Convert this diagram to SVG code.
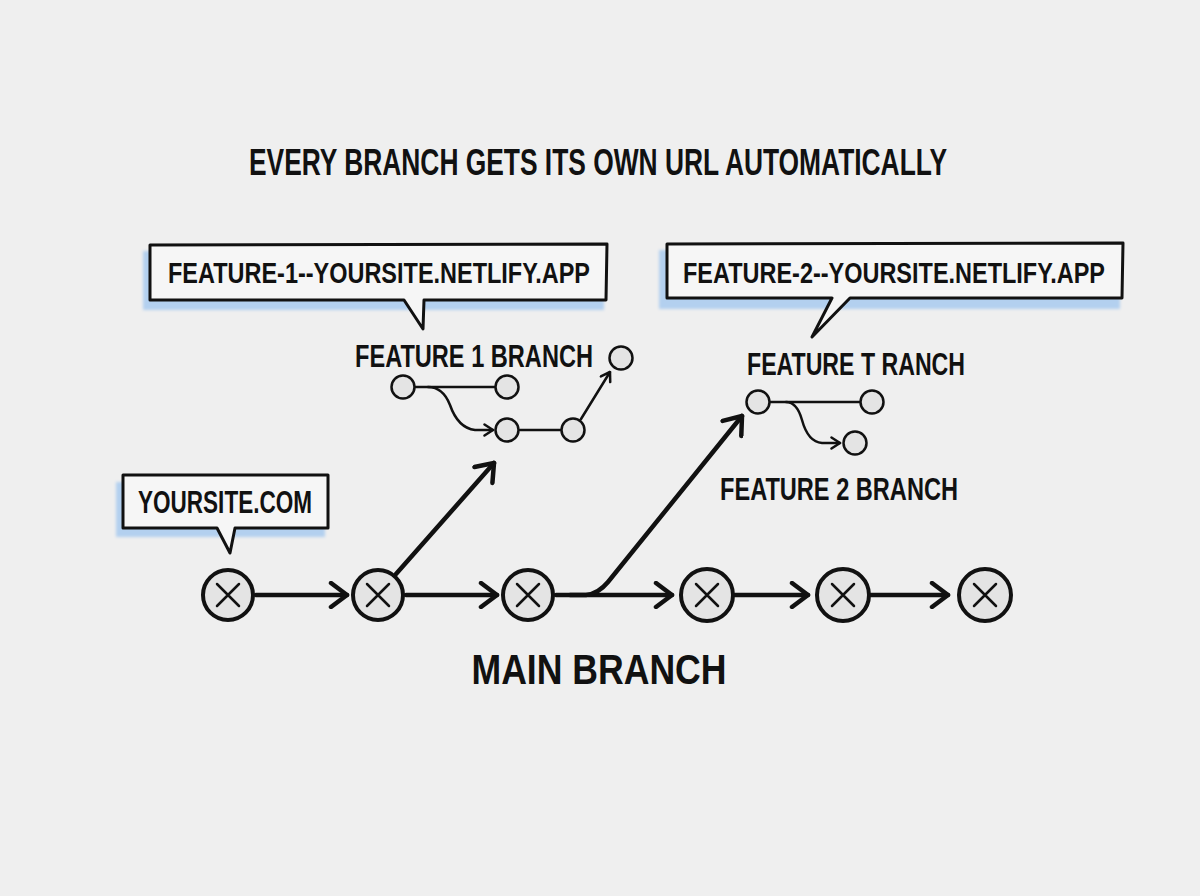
<svg xmlns="http://www.w3.org/2000/svg" width="1200" height="896" viewBox="0 0 1200 896">
<defs>
<style>
.t{font-family:"Liberation Sans","Arial",sans-serif;font-weight:bold;fill:#111;}
.node{fill:#e4e4e4;stroke:#111;stroke-width:4;}
.x{stroke:#111;stroke-width:2.5;stroke-linecap:round;}
.sn{fill:#e4e4e4;stroke:#111;stroke-width:2.5;}
.box{fill:#f6f6f6;stroke:#111;stroke-width:3;stroke-linejoin:round;}
.shadow{fill:#b3d0ef;}
.main{fill:none;stroke:#111;stroke-width:4.5;stroke-linecap:round;stroke-linejoin:round;}
.thin{fill:none;stroke:#111;stroke-width:2.5;stroke-linecap:round;stroke-linejoin:round;}
</style>
<marker id="ah" viewBox="0 0 22 28" refX="19" refY="14" markerWidth="22" markerHeight="28" markerUnits="userSpaceOnUse" orient="auto">
<path d="M3,2 L19,14 L3,26" fill="none" stroke="#111" stroke-width="4.5" stroke-linecap="round" stroke-linejoin="round"/>
</marker>
<marker id="sah" viewBox="0 0 12 14" refX="10.5" refY="7" markerWidth="12" markerHeight="14" markerUnits="userSpaceOnUse" orient="auto">
<path d="M2,1.5 L10.5,7 L2,12.5" fill="none" stroke="#111" stroke-width="2.5" stroke-linecap="round" stroke-linejoin="round"/>
</marker>
<filter id="blur" x="-10%" y="-30%" width="120%" height="160%"><feGaussianBlur stdDeviation="1.5"/></filter>
</defs>
<rect width="1200" height="896" fill="#efefef"/>

<g id="title"><text class="t" x="598" y="175" font-size="36" text-anchor="middle" textLength="698" lengthAdjust="spacingAndGlyphs">EVERY BRANCH GETS ITS OWN URL AUTOMATICALLY</text></g>

<g id="connectors">
<path class="main" d="M256,595 L347,595" marker-end="url(#ah)"/>
<path class="main" d="M406,595 L497,595" marker-end="url(#ah)"/>
<path class="main" d="M556,595 L672,595" marker-end="url(#ah)"/>
<path class="main" d="M735,595 L808,595" marker-end="url(#ah)"/>
<path class="main" d="M871,595 L948,595" marker-end="url(#ah)"/>
<path class="main" d="M396,574 L494,463" marker-end="url(#ah)"/>
<path class="main" d="M570,595 L586,595 Q598,594 608,582 L742,416" marker-end="url(#ah)"/>
<path class="thin" d="M415,387 L495,387"/>
<path class="thin" d="M428,387 Q443,387 450,405 Q458,428 475,430 L493,430" marker-end="url(#sah)"/>
<path class="thin" d="M520,430 L561,430"/>
<path class="thin" d="M581,419 L610,372" marker-end="url(#sah)"/>
<path class="thin" d="M770,402 L860,402"/>
<path class="thin" d="M786,402 Q797,402 802,420 Q808,442 822,443 L840,443" marker-end="url(#sah)"/>
</g>

<g id="callout-feature-1">
<rect class="shadow" x="143" y="251" width="461" height="59" filter="url(#blur)"/>
<path class="box" d="M150,245 L607,244 L606,300 L424,300 L423,329 L404,300 L150,300 Z"/>
<text class="t" transform="translate(168,283) scale(0.81,1)" x="0" y="0" font-size="29" textLength="521" lengthAdjust="spacingAndGlyphs">FEATURE-1--YOURSITE.NETLIFY.APP</text>
</g>

<g id="callout-feature-2">
<rect class="shadow" x="659" y="250" width="461" height="59" filter="url(#blur)"/>
<path class="box" d="M667,244 L1123,243 L1122,298 L850,298 L812,337 L832,298 L667,298 Z"/>
<text class="t" transform="translate(683,283) scale(0.81,1)" x="0" y="0" font-size="29" textLength="521" lengthAdjust="spacingAndGlyphs">FEATURE-2--YOURSITE.NETLIFY.APP</text>
</g>

<g id="callout-yoursite">
<rect class="shadow" x="116" y="482" width="209" height="55" filter="url(#blur)"/>
<path class="box" d="M123,475 L328,475 L328,528 L235,528 L230,553 L217,528 L123,528 Z"/>
<text class="t" x="138" y="513" font-size="31" textLength="174" lengthAdjust="spacingAndGlyphs">YOURSITE.COM</text>
</g>

<g id="feature-1-branch">
<text class="t" x="355" y="367" font-size="31" textLength="238" lengthAdjust="spacingAndGlyphs">FEATURE 1 BRANCH</text>
<circle class="sn" cx="403" cy="387" r="11.5"/>
<circle class="sn" cx="507" cy="387" r="11.5"/>
<circle class="sn" cx="507" cy="430" r="11.5"/>
<circle class="sn" cx="573" cy="430" r="11.5"/>
<circle class="sn" cx="621" cy="358" r="11.5"/>
</g>

<g id="feature-2-branch">
<text class="t" x="747" y="375" font-size="31" textLength="218" lengthAdjust="spacingAndGlyphs">FEATURE T RANCH</text>
<circle class="sn" cx="758" cy="402" r="11.5"/>
<circle class="sn" cx="872" cy="402" r="11.5"/>
<circle class="sn" cx="855" cy="443" r="11.5"/>
<text class="t" x="720" y="500" font-size="31" textLength="238" lengthAdjust="spacingAndGlyphs">FEATURE 2 BRANCH</text>
</g>

<g id="main-branch">
<g id="m1"><circle class="node" cx="228" cy="595" r="25"/><path class="x" d="M217,584 L239,606 M239,584 L217,606"/></g>
<g id="m2"><circle class="node" cx="378" cy="595" r="25"/><path class="x" d="M367,584 L389,606 M389,584 L367,606"/></g>
<g id="m3"><circle class="node" cx="528" cy="595" r="25"/><path class="x" d="M517,584 L539,606 M539,584 L517,606"/></g>
<g id="m4"><circle class="node" cx="707" cy="595" r="26"/><path class="x" d="M696,584 L718,606 M718,584 L696,606"/></g>
<g id="m5"><circle class="node" cx="843" cy="595" r="26"/><path class="x" d="M832,584 L854,606 M854,584 L832,606"/></g>
<g id="m6"><circle class="node" cx="985" cy="595" r="26"/><path class="x" d="M974,584 L996,606 M996,584 L974,606"/></g>
<text class="t" x="599" y="684" font-size="42" text-anchor="middle" textLength="255" lengthAdjust="spacingAndGlyphs">MAIN BRANCH</text>
</g>
</svg>
